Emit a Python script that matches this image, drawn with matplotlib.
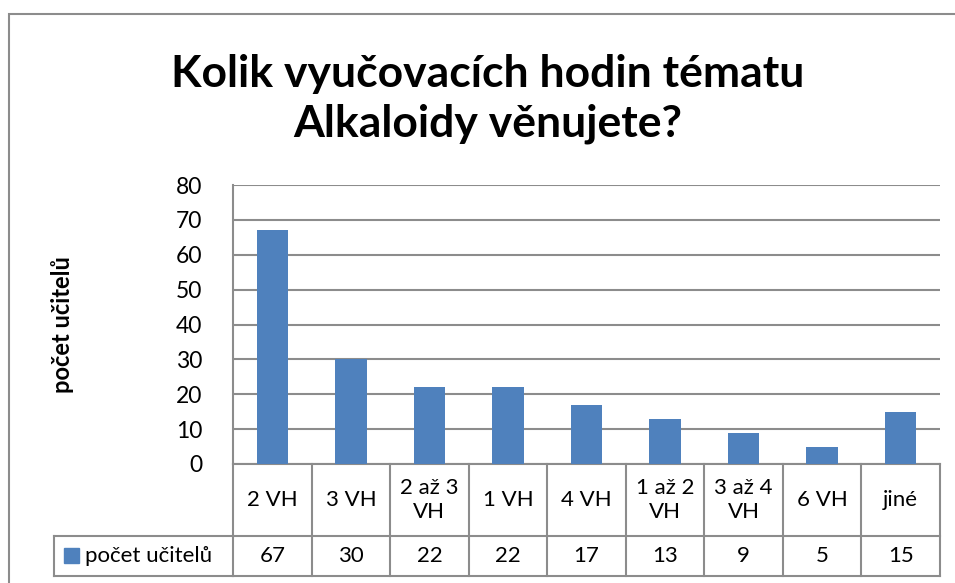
import matplotlib.pyplot as plt
from matplotlib.patches import Rectangle
from matplotlib.transforms import blended_transform_factory

categories = ['2 VH', '3 VH', '2 až 3\nVH', '1 VH', '4 VH', '1 až 2\nVH', '3 až 4\nVH', '6 VH', 'jiné']
values = [67, 30, 22, 22, 17, 13, 9, 5, 15]
series_name = 'počet učitelů'
title = 'Kolik vyučovacích hodin tématu\nAlkaloidy věnujete?'

W, H = 955, 583
blue = '#4f81bd'
grey = '#8c8c8c'
plt.rcParams['font.family'] = ['Lato', 'DejaVu Sans']

fig = plt.figure(figsize=(W / 100, H / 100), dpi=100)

# plot area in pixels
x0, x1, y_top, y0 = 233, 940, 185, 464
ax = fig.add_axes([x0 / W, 1 - y0 / H, (x1 - x0) / W, (y0 - y_top) / H])

n = len(categories)
ax.bar(range(n), values, width=0.4, color=blue, zorder=3)
ax.set_xlim(-0.5, n - 0.5)
ax.set_ylim(0, 80)
ax.set_yticks(range(0, 81, 10))
ax.tick_params(axis='y', length=0, labelsize=16.5, pad=22)
ax.set_xticks([])
ax.grid(axis='y', color=grey, linewidth=1.5, zorder=0)
for s in ['top', 'right', 'bottom']:
    ax.spines[s].set_visible(False)
ax.spines['left'].set_color(grey)
ax.spines['left'].set_linewidth(1.5)

# data table under the axes
tr = blended_transform_factory(ax.transData, fig.transFigure)
row1 = 1 - 536 / H
row2 = 1 - 576 / H
top = 1 - y0 / H
lw = 1.5
ax.plot([-0.5, n - 0.5], [top, top], transform=tr, color=grey, lw=lw, clip_on=False)
ax.plot([-0.5, n - 0.5], [row1, row1], transform=tr, color=grey, lw=lw, clip_on=False)
ax.plot([-0.5, n - 0.5], [row2, row2], transform=tr, color=grey, lw=lw, clip_on=False)
for i in range(n + 1):
    ax.plot([i - 0.5, i - 0.5], [top, row2], transform=tr, color=grey, lw=lw, clip_on=False)
for i, (c, v) in enumerate(zip(categories, values)):
    ax.text(i, (top + row1) / 2, c, transform=tr, ha='center', va='center',
            fontsize=16, linespacing=1.25)
    ax.text(i, (row1 + row2) / 2, str(v), transform=tr, ha='center', va='center',
            fontsize=16)

# legend cell
lx = 54 / W
fig.lines.append(plt.Line2D([lx, x0 / W], [row1, row1], color=grey, lw=lw, transform=fig.transFigure))
fig.lines.append(plt.Line2D([lx, x0 / W], [row2, row2], color=grey, lw=lw, transform=fig.transFigure))
fig.lines.append(plt.Line2D([lx, lx], [row1, row2], color=grey, lw=lw, transform=fig.transFigure))
fig.patches.append(Rectangle((64 / W, 1 - 563 / H), 15 / W, 15 / H, color=blue,
                             transform=fig.transFigure))
fig.text(85 / W, (row1 + row2) / 2, series_name, ha='left', va='center', fontsize=16)

# y label
fig.text(62 / W, 1 - 325 / H, series_name, rotation=90, ha='center', va='center',
         fontsize=17, fontweight='bold')

# title
fig.text(488 / W, 1 - 99 / H, title, ha='center', va='center', fontsize=32,
         fontweight='bold', linespacing=1.3)

# chart border
fig.patches.append(Rectangle((9 / W, -0.05), 1.1, 1 - 14 / H + 0.05, fill=False,
                             edgecolor=grey, lw=1.5, transform=fig.transFigure))

fig.savefig('out.png', dpi=100)
